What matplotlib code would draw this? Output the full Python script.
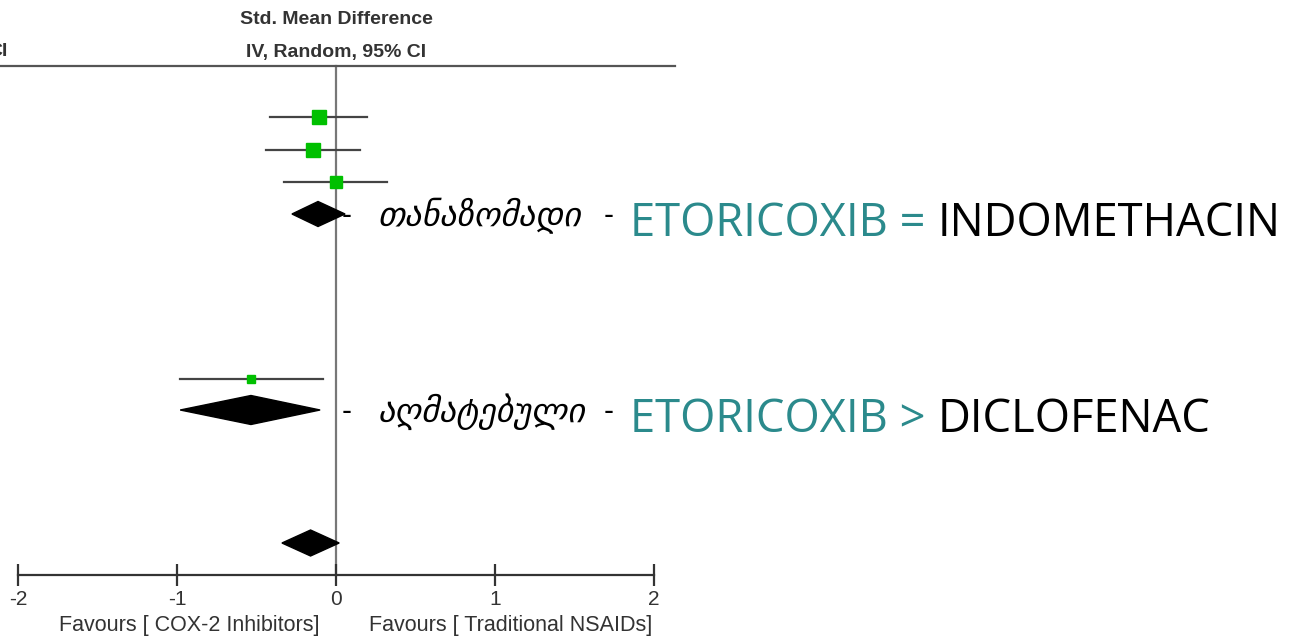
import matplotlib
matplotlib.use("Agg")
import matplotlib.pyplot as plt
from matplotlib.patches import Polygon

# study rows: point estimate and 95% CI (std. mean difference)
study_est = [-0.11, -0.145, 0.0, -0.535]
study_lo = [-0.415, -0.44, -0.33, -0.98]
study_hi = [0.195, 0.15, 0.32, -0.08]
study_size = [9.5, 9.5, 8.0, 6.0]

# pooled estimates drawn as diamonds
pooled_est = [-0.113, -0.535, -0.16]
pooled_lo = [-0.277, -0.98, -0.34]
pooled_hi = [0.057, -0.10, 0.02]

ticks = [-2, -1, 0, 1, 2]
tick_labels = ["-2", "-1", "0", "1", "2"]
left_label = "Favours [ COX-2 Inhibitors]"
right_label = "Favours [ Traditional NSAIDs]"
header = ["Std. Mean Difference", "IV, Random, 95% CI"]

verdicts = ["თანაზომადი", "აღმატებული"]
drug_a = ["ETORICOXIB =", "ETORICOXIB >"]
drug_b = ["INDOMETHACIN", "DICLOFENAC"]

# vertical layout (pixel rows, y grows downward)
study_y = [117, 150, 182, 379]
pooled_y = [214, 410, 543]
pooled_h = [12.5, 14.5, 13]
axis_y = 575
top_y = 66

W, H = 1309, 639
x0_px, unit_px = 336, 159
head_font = ["Liberation Sans Narrow", "Liberation Sans"]

fig = plt.figure(figsize=(W / 100, H / 100), dpi=100)
ax = fig.add_axes([0, 0, 1, 1])
ax.set_xlim(-x0_px / unit_px, (W - x0_px) / unit_px)
ax.set_ylim(H, 0)

line_col = "#444444"
# header rule and zero line
ax.plot([ax.get_xlim()[0], (675 - x0_px) / unit_px], [top_y, top_y], color="#555555", lw=1.6)
ax.plot([0, 0], [top_y, axis_y], color="#777777", lw=1.6, zorder=1)

for est, lo, hi, y, s in zip(study_est, study_lo, study_hi, study_y, study_size):
    ax.plot([lo, hi], [y, y], color=line_col, lw=1.6, zorder=2)
    ax.plot(est, y, marker="s", ms=s, color="#00c000", mec="#00c000", zorder=3)

for est, lo, hi, y, h in zip(pooled_est, pooled_lo, pooled_hi, pooled_y, pooled_h):
    ax.add_patch(Polygon([[lo, y], [est, y - h], [hi, y], [est, y + h]],
                         closed=True, color="black", zorder=4))

# bottom axis using the spine
for side in ["top", "right", "left"]:
    ax.spines[side].set_visible(False)
ax.spines["bottom"].set_position(("data", axis_y))
ax.spines["bottom"].set_bounds(-2, 2)
ax.spines["bottom"].set_linewidth(1.6)
ax.spines["bottom"].set_color("#333333")
ax.set_xticks(ticks)
ax.set_xticklabels(tick_labels, fontsize=15, color="#333333", family=head_font)
ax.tick_params(axis="x", direction="inout", length=16, width=1.6, color="#333333", pad=3)
ax.set_yticks([])

ax.text(-0.92, 626, left_label, ha="center", va="center", fontsize=15.5, color="#333333", family=head_font)
ax.text(1.10, 626, right_label, ha="center", va="center", fontsize=15.5, color="#333333", family=head_font)

ax.text(0, 19, header[0], ha="center", va="center", fontsize=14, fontweight="bold", color="#333333", family=head_font)
ax.text(0, 52, header[1], ha="center", va="center", fontsize=14, fontweight="bold", color="#333333", family=head_font)
ax.text(ax.get_xlim()[0] + 8 / unit_px, 52, "CI", ha="right", va="center", fontsize=14,
        fontweight="bold", color="#333333", family=head_font)

# verdict annotations
for i, y in enumerate(pooled_y[:2]):
    ax.text((342 - x0_px) / unit_px, y + 2, "-", ha="left", va="center", fontsize=20, color="black")
    ax.text((378 - x0_px) / unit_px, y + 2, verdicts[i], ha="left", va="center", fontsize=24.5,
            style="italic", color="black", family="DejaVu Sans")
    ax.text((604 - x0_px) / unit_px, y + 2, "-", ha="left", va="center", fontsize=20, color="black")
    t = ax.text((630 - x0_px) / unit_px, y + 10, drug_a[i] + " ", ha="left", va="center", fontsize=32.7,
                color="#2b8a8c", family="Open Sans")
    ax.annotate(drug_b[i], xycoords=t, xy=(1, 0.5), ha="left", va="center", fontsize=32.7,
                color="black", family="Open Sans")

fig.savefig("out.png", dpi=100, facecolor="white")
